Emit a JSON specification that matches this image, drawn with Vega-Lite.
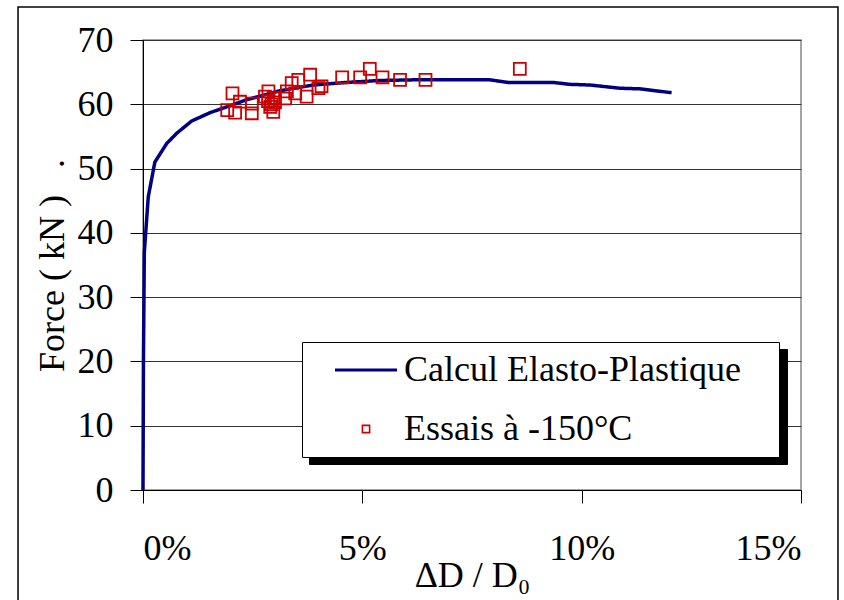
{
  "$schema": "https://vega.github.io/schema/vega-lite/v6.json",
  "width": 658,
  "height": 450,
  "autosize": {"type": "none"},
  "padding": {"left": 143, "top": 40, "right": 43, "bottom": 110},
  "background": "white",
  "config": {
    "font": "Liberation Serif",
    "view": {"stroke": "#888888", "strokeWidth": 1.5},
    "axis": {
      "labelFont": "Liberation Serif",
      "titleFont": "Liberation Serif",
      "labelFontSize": 36,
      "titleFontSize": 36,
      "titleFontWeight": "normal",
      "labelColor": "black",
      "titleColor": "black",
      "domainColor": "black",
      "tickColor": "black",
      "tickSize": 13,
      "domainWidth": 1,
      "tickWidth": 1
    }
  },
  "encoding": {
    "x": {
      "field": "x",
      "type": "quantitative",
      "scale": {"domain": [0, 0.15], "nice": false},
      "axis": {
        "values": [0, 0.05, 0.1, 0.15],
        "format": ".0%",
        "grid": false,
        "labelPadding": 28,
        "title": "ΔD / D₀",
        "titlePadding": -8
      }
    },
    "y": {
      "field": "F",
      "type": "quantitative",
      "scale": {"domain": [0, 70], "nice": false},
      "axis": {
        "values": [0, 10, 20, 30, 40, 50, 60, 70],
        "grid": true,
        "gridColor": "#333333",
        "gridWidth": 1,
        "labelPadding": 17,
        "title": "Force ( kN )\u00a0\u00a0\u00a0.",
        "titlePadding": 6
      }
    },
    "color": {
      "field": "serie",
      "type": "nominal",
      "scale": {
        "domain": ["Calcul Elasto-Plastique", "Essais à -150°C"],
        "range": ["#000080", "#cc0000"]
      },
      "legend": {
        "orient": "none",
        "legendX": 159,
        "legendY": 302,
        "title": null,
        "fillColor": "white",
        "strokeColor": "black",
        "padding": 10,
        "symbolSize": 1600,
        "symbolStrokeWidth": 2,
        "symbolOffset": 36,
        "labelFont": "Liberation Serif",
        "labelFontSize": 36,
        "labelColor": "black",
        "labelOffset": 20,
        "labelLimit": 0,
        "rowPadding": 20,
        "zindex": 2,
        "encode": {
          "symbols": {
            "update": {
              "strokeWidth": {"signal": "datum.value === 'Calcul Elasto-Plastique' ? 3 : 1.6"}
            }
          }
        }
      }
    },
    "opacity": {
      "field": "serie",
      "type": "nominal",
      "scale": {"range": [1, 1]},
      "legend": {
        "orient": "none",
        "legendX": 166,
        "legendY": 309,
        "title": null,
        "fillColor": "black",
        "strokeColor": "black",
        "padding": 10,
        "symbolType": "M19.85,0M0,-0.72M0,0.72M-1.55,0H1.55",
        "symbolSize": 1600,
        "symbolStrokeWidth": 2,
        "symbolOffset": 36,
        "symbolStrokeColor": "black",
        "labelExpr": "''",
        "labelFont": "Liberation Serif",
        "labelFontSize": 36,
        "labelColor": "black",
        "labelOffset": 20,
        "labelLimit": 0,
        "rowPadding": 15,
        "zindex": 1
      }
    }
  },
  "layer": [
    {
      "data": {
        "values": [
          {"x": 0, "F": 0, "serie": "Calcul Elasto-Plastique"},
          {"x": 0.0001, "F": 20, "serie": "Calcul Elasto-Plastique"},
          {"x": 0.0003, "F": 37, "serie": "Calcul Elasto-Plastique"},
          {"x": 0.0012, "F": 45.6, "serie": "Calcul Elasto-Plastique"},
          {"x": 0.0027, "F": 51, "serie": "Calcul Elasto-Plastique"},
          {"x": 0.0054, "F": 53.9, "serie": "Calcul Elasto-Plastique"},
          {"x": 0.0077, "F": 55.5, "serie": "Calcul Elasto-Plastique"},
          {"x": 0.0111, "F": 57.4, "serie": "Calcul Elasto-Plastique"},
          {"x": 0.0153, "F": 58.7, "serie": "Calcul Elasto-Plastique"},
          {"x": 0.0187, "F": 59.5, "serie": "Calcul Elasto-Plastique"},
          {"x": 0.0236, "F": 60.7, "serie": "Calcul Elasto-Plastique"},
          {"x": 0.0312, "F": 62.1, "serie": "Calcul Elasto-Plastique"},
          {"x": 0.0388, "F": 63.0, "serie": "Calcul Elasto-Plastique"},
          {"x": 0.0464, "F": 63.4, "serie": "Calcul Elasto-Plastique"},
          {"x": 0.054, "F": 63.7, "serie": "Calcul Elasto-Plastique"},
          {"x": 0.0615, "F": 63.8, "serie": "Calcul Elasto-Plastique"},
          {"x": 0.0791, "F": 63.8, "serie": "Calcul Elasto-Plastique"},
          {"x": 0.0832, "F": 63.4, "serie": "Calcul Elasto-Plastique"},
          {"x": 0.0935, "F": 63.4, "serie": "Calcul Elasto-Plastique"},
          {"x": 0.0973, "F": 63.1, "serie": "Calcul Elasto-Plastique"},
          {"x": 0.1019, "F": 63.0, "serie": "Calcul Elasto-Plastique"},
          {"x": 0.1087, "F": 62.5, "serie": "Calcul Elasto-Plastique"},
          {"x": 0.1133, "F": 62.4, "serie": "Calcul Elasto-Plastique"},
          {"x": 0.1205, "F": 61.8, "serie": "Calcul Elasto-Plastique"}
        ]
      },
      "mark": {"type": "line", "strokeWidth": 3.5},
      "encoding": {
        "strokeDash": {
          "field": "serie",
          "type": "nominal",
          "scale": {"domain": ["Calcul Elasto-Plastique"], "range": [[1, 0]]},
          "legend": {
            "orient": "none",
            "legendX": -14,
            "legendY": -34,
            "title": null,
            "padding": 0,
            "symbolType": "M-1.3758,-1H1.3758V1H-1.3758Z",
            "symbolSize": 355216,
            "symbolStrokeWidth": 1.5,
            "symbolStrokeColor": "black",
            "symbolFillColor": "transparent",
            "labelExpr": "''",
            "labelOpacity": 0,
            "labelFontSize": 1,
            "labelOffset": 0,
            "zindex": 3
          }
        }
      }
    },
    {
      "data": {
        "values": [
          {"x": 0.0204, "F": 61.7, "serie": "Essais à -150°C"},
          {"x": 0.0192, "F": 59.1, "serie": "Essais à -150°C"},
          {"x": 0.0210, "F": 58.7, "serie": "Essais à -150°C"},
          {"x": 0.0221, "F": 60.4, "serie": "Essais à -150°C"},
          {"x": 0.0248, "F": 60.1, "serie": "Essais à -150°C"},
          {"x": 0.0248, "F": 58.6, "serie": "Essais à -150°C"},
          {"x": 0.0286, "F": 62.0, "serie": "Essais à -150°C"},
          {"x": 0.0278, "F": 61.2, "serie": "Essais à -150°C"},
          {"x": 0.0285, "F": 60.5, "serie": "Essais à -150°C"},
          {"x": 0.0293, "F": 60.0, "serie": "Essais à -150°C"},
          {"x": 0.0290, "F": 59.6, "serie": "Essais à -150°C"},
          {"x": 0.0297, "F": 58.8, "serie": "Essais à -150°C"},
          {"x": 0.0298, "F": 61.0, "serie": "Essais à -150°C"},
          {"x": 0.0301, "F": 60.3, "serie": "Essais à -150°C"},
          {"x": 0.0324, "F": 60.9, "serie": "Essais à -150°C"},
          {"x": 0.0328, "F": 62.0, "serie": "Essais à -150°C"},
          {"x": 0.0339, "F": 63.3, "serie": "Essais à -150°C"},
          {"x": 0.0354, "F": 63.8, "serie": "Essais à -150°C"},
          {"x": 0.0347, "F": 61.7, "serie": "Essais à -150°C"},
          {"x": 0.0373, "F": 61.2, "serie": "Essais à -150°C"},
          {"x": 0.0381, "F": 64.6, "serie": "Essais à -150°C"},
          {"x": 0.0400, "F": 62.5, "serie": "Essais à -150°C"},
          {"x": 0.0407, "F": 62.8, "serie": "Essais à -150°C"},
          {"x": 0.0454, "F": 64.2, "serie": "Essais à -150°C"},
          {"x": 0.0495, "F": 64.2, "serie": "Essais à -150°C"},
          {"x": 0.0517, "F": 65.5, "serie": "Essais à -150°C"},
          {"x": 0.0546, "F": 64.2, "serie": "Essais à -150°C"},
          {"x": 0.0586, "F": 63.8, "serie": "Essais à -150°C"},
          {"x": 0.0644, "F": 63.8, "serie": "Essais à -150°C"},
          {"x": 0.0859, "F": 65.5, "serie": "Essais à -150°C"}
        ]
      },
      "mark": {"type": "point", "filled": false, "strokeWidth": 1.8, "size": 4400},
      "encoding": {
        "shape": {
          "field": "serie",
          "type": "nominal",
          "scale": {
            "domain": ["Calcul Elasto-Plastique", "Essais à -150°C"],
            "range": ["M19.85,0M0,-0.72M0,0.72M-1.55,0H1.55", "M-0.18,-0.18H0.18V0.18H-0.18Z"]
          },
          "legend": {
            "orient": "none",
            "legendX": 159,
            "legendY": 302,
            "title": null,
            "fillColor": "white",
            "strokeColor": "black",
            "padding": 10,
            "symbolSize": 1600,
            "symbolStrokeWidth": 2,
            "symbolOffset": 36,
            "labelFont": "Liberation Serif",
            "labelFontSize": 36,
            "labelColor": "black",
            "labelOffset": 20,
            "labelLimit": 0,
            "rowPadding": 20,
            "zindex": 2,
            "encode": {
              "symbols": {
                "update": {
                  "strokeWidth": {"signal": "datum.value === 'Calcul Elasto-Plastique' ? 3 : 1.6"}
                }
              }
            }
          }
        }
      }
    }
  ]
}
